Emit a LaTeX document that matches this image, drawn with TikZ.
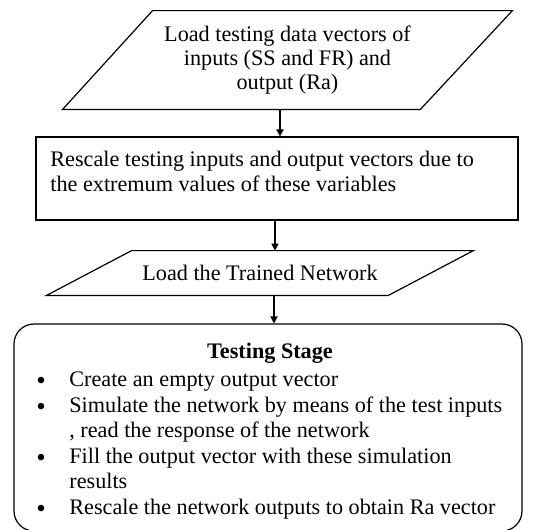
\documentclass[tikz,border=0pt]{standalone}
\usepackage{fontspec}
\setmainfont{Liberation Serif}
\usetikzlibrary{arrows.meta,positioning}
\newcommand{\bigbullet}{\raisebox{-1.4pt}{\fontsize{13.5}{12}\selectfont\textbullet}}

\begin{document}
\begin{tikzpicture}[
    x=0.5pt, y=-0.5pt,
    every node/.style={font=\fontsize{11.1}{12.2}\selectfont},
    frame/.style={draw, line width=0.6pt},
    plain/.style={inner sep=0pt},
    arrow/.style={-{Triangle[length=3.5pt,width=3.6pt]}, line width=0.6pt}
]
    \useasboundingbox (0,0) rectangle (537,530);

    % Load testing data (parallelogram)
    \node[plain, minimum width=224.5pt, minimum height=49pt, align=center] (load) at (287.5,60) {Load testing data vectors of\\inputs (SS and FR) and\\output (Ra)};
    \draw[frame] ([xshift=45pt]load.north west) -- (load.north east) -- ([xshift=-46pt]load.south east) -- (load.south west) -- cycle;

    % Rescale box
    \node[frame, minimum width=241pt, minimum height=41.5pt] (rescale) at (277,178.5) {};
    \node[plain, anchor=north west, align=left] (rescaletext) at (50,151) {Rescale testing inputs and output vectors due to\\the extremum values of these variables};

    % Trained network (parallelogram)
    \node[plain, minimum width=213pt, minimum height=22pt] (net) at (260,273) {Load the Trained Network};
    \draw[frame] ([xshift=42.5pt]net.north west) -- (net.north east) -- ([xshift=-42.5pt]net.south east) -- (net.south west) -- cycle;

    % Testing stage
    \node[frame, rounded corners=10pt, minimum width=254pt, minimum height=103.5pt] (stage) at (268,427.5) {};
    \node[plain, font=\fontsize{11.1}{12.2}\selectfont\bfseries] (title) at (270,353) {Testing Stage};
    \node[plain, anchor=north west] (steps) at (36,369) {%
        \begin{tabular}{@{}p{16.5pt}@{}l@{}}
        \bigbullet & Create an empty output vector\\[1pt]
        \bigbullet & Simulate the network by means of the test inputs\\
                   & , read the response of the network\\[1pt]
        \bigbullet & Fill the output vector with these simulation\\
                   & results\\[1pt]
        \bigbullet & Rescale the network outputs to obtain Ra vector
        \end{tabular}};

    % Arrows
    \draw[arrow] (load.south -| rescale.north) ++(1.5pt,0) -- ([xshift=1.5pt]rescale.north);
    \draw[arrow] ([xshift=-1pt]rescale.south) -- ([xshift=-1pt]rescale.south |- net.north);
    \draw[arrow] ([xshift=3pt]net.south -| stage.north) -- ([xshift=3pt]stage.north);

\end{tikzpicture}
\end{document}
